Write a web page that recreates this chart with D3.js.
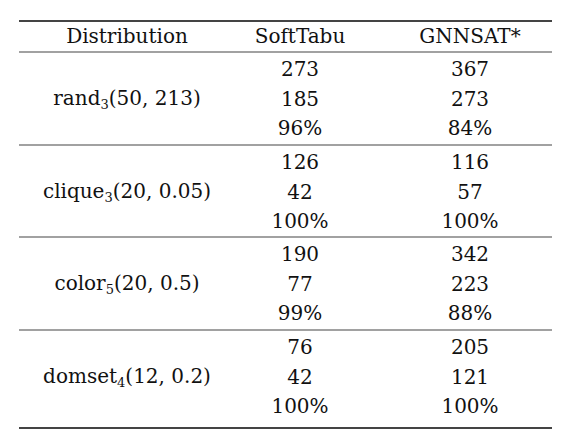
<!DOCTYPE html><html><head><meta charset="utf-8"><script src="https://cdn.jsdelivr.net/npm/d3@7"></script>
<style>body{margin:0;background:#fff}</style></head><body><svg id="c" width="566" height="448"></svg>
<script>
const headers=["Distribution","SoftTabu","GNNSAT*"];
const dists=[["rand","3","(50, 213)"],["clique","3","(20, 0.05)"],["color","5","(20, 0.5)"],["domset","4","(12, 0.2)"]];
const softTabu=[["273","185","96%"],["126","42","100%"],["190","77","99%"],["76","42","100%"]];
const gnnsat=[["367","273","84%"],["116","57","100%"],["342","223","88%"],["205","121","100%"]];
const svg=d3.select("#c");
const font="'DejaVu Serif', serif";
const x=d3.scalePoint().domain(headers).range([130,470]);
const L=19,R=552;
const rules=[52,145,237,330,428];
svg.append("line").attr("x1",L).attr("x2",R).attr("y1",21).attr("y2",21).attr("stroke","#444").attr("stroke-width",1.8);
rules.forEach((y,i)=>svg.append("line").attr("x1",L).attr("x2",R).attr("y1",y).attr("y2",y).attr("stroke","#444").attr("stroke-width",i==4?1.8:1.2));
const T=(xx,y,t)=>svg.append("text").attr("x",xx).attr("y",y).attr("text-anchor","middle").attr("font-family",font).attr("font-size",20).attr("fill","#111").text(t);
headers.forEach((h,i)=>T(x(h)+(i==0?-3:0),43,h));
dists.forEach((d,i)=>{
  const s=rules[i];
  [softTabu,gnnsat].forEach((arr,j)=>arr[i].forEach((v,k)=>T(x(headers[j+1]),s+24+k*29.5,v)));
  const t=svg.append("text").attr("x",x(headers[0])-3).attr("y",s+53).attr("text-anchor","middle").attr("font-family",font).attr("font-size",20).attr("fill","#111");
  t.append("tspan").text(d[0]);
  t.append("tspan").attr("font-size",13).attr("dy",4).text(d[1]);
  t.append("tspan").attr("dy",-4).text(d[2]);
});
</script></body></html>
